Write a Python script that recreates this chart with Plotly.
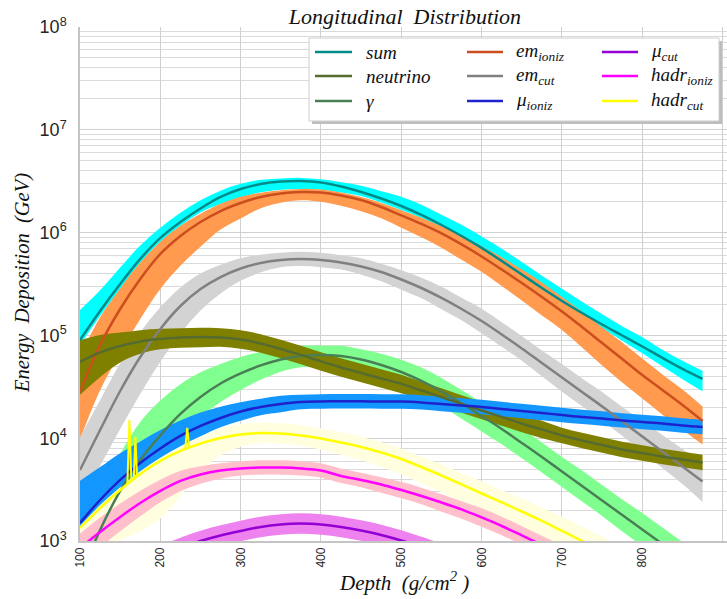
import plotly.graph_objects as go

# ---------------- data ----------------
# depth in g/cm^2; energy deposition given as log10(E / GeV) of the mean curve,
# with the upper / lower extent of each spread band in decades.
depth = list(range(100, 876, 25))                 # 100 ... 875
depth_gamma = list(range(100, 851, 25))           # 100 ... 850
depth_mu_cut = list(range(200, 551, 25))          # 200 ... 550
depth_hadr_ioniz = list(range(100, 701, 25))      # 100 ... 700
depth_hadr_cut = list(range(100, 776, 25))        # 100 ... 775

sum_log = [4.956, 5.238, 5.500, 5.744, 5.948, 6.103, 6.235, 6.347, 6.424, 6.473, 6.497, 6.502, 6.488, 6.449,
           6.395, 6.332, 6.259, 6.172, 6.074, 5.967, 5.851, 5.724, 5.593, 5.461, 5.335, 5.218, 5.106, 4.999,
           4.892, 4.781, 4.674, 4.576]
sum_up = [0.29, 0.20, 0.16, 0.13, 0.10, 0.09, 0.08, 0.06, 0.05, 0.04, 0.03, 0.03, 0.03, 0.04, 0.06, 0.07,
          0.09, 0.10, 0.10, 0.11, 0.11, 0.12, 0.12, 0.12, 0.12, 0.11, 0.10, 0.09, 0.09, 0.08, 0.08, 0.08]
sum_dn = [0.05, 0.05, 0.05, 0.04, 0.04, 0.04, 0.04, 0.07, 0.08, 0.08, 0.08, 0.08, 0.07, 0.06, 0.04, 0.04,
          0.04, 0.03, 0.03, 0.03, 0.03, 0.03, 0.03, 0.03, 0.03, 0.035, 0.04, 0.05, 0.065, 0.08, 0.10, 0.12]

neutrino_log = [4.742, 4.834, 4.897, 4.941, 4.965, 4.980, 4.985, 4.980, 4.960, 4.922, 4.868, 4.810, 4.747,
                4.688, 4.635, 4.581, 4.528, 4.464, 4.401, 4.333, 4.270, 4.207, 4.143, 4.085, 4.027, 3.978,
                3.934, 3.890, 3.856, 3.822, 3.793, 3.764]
neutrino_up = [0.21, 0.17, 0.13, 0.11, 0.10] + [0.09] * 12 + [0.085] * 7 + [0.075] * 8
neutrino_dn = [0.32, 0.24, 0.16, 0.12, 0.10, 0.10, 0.10] + [0.09] * 10 + [0.085] * 7 + [0.075] * 8

gamma_log = [2.640, 3.107, 3.487, 3.788, 4.027, 4.236, 4.401, 4.532, 4.630, 4.708, 4.766, 4.800, 4.810, 4.800,
             4.766, 4.712, 4.644, 4.557, 4.455, 4.338, 4.216, 4.090, 3.954, 3.817, 3.676, 3.535, 3.394, 3.253,
             3.112, 2.971, 2.830]
gamma_up = [0.29, 0.33, 0.36, 0.37, 0.34, 0.29, 0.24, 0.19, 0.16, 0.13, 0.11, 0.10, 0.09, 0.10, 0.10, 0.11,
            0.12, 0.13, 0.13, 0.13, 0.13, 0.14, 0.14, 0.14, 0.14, 0.15, 0.15, 0.15, 0.16, 0.16, 0.16]
gamma_dn = [0.29, 0.29, 0.28, 0.26, 0.24, 0.21, 0.19, 0.18, 0.16, 0.14, 0.12, 0.11, 0.11, 0.11, 0.12, 0.13,
            0.13, 0.14, 0.14, 0.15, 0.15, 0.15, 0.15, 0.15, 0.15, 0.15, 0.15, 0.16, 0.16, 0.16, 0.16]

em_ioniz_log = [4.450, 4.907, 5.257, 5.549, 5.792, 5.967, 6.103, 6.210, 6.288, 6.347, 6.381, 6.395, 6.390,
                6.361, 6.317, 6.249, 6.167, 6.084, 5.992, 5.885, 5.768, 5.641, 5.510, 5.374, 5.233, 5.082,
                4.926, 4.771, 4.615, 4.469, 4.323, 4.168]
em_ioniz_up = [0.35, 0.27, 0.20, 0.16, 0.12, 0.10, 0.08, 0.07, 0.06, 0.04, 0.03, 0.03, 0.03, 0.03, 0.03, 0.04,
               0.05, 0.06, 0.07, 0.09, 0.10, 0.12, 0.13, 0.14, 0.14, 0.15, 0.15, 0.16, 0.16, 0.15, 0.15, 0.14]
em_ioniz_dn = [0.46, 0.44, 0.43, 0.39, 0.34, 0.29, 0.24, 0.18, 0.15, 0.11, 0.09, 0.08, 0.09, 0.10, 0.11, 0.11,
               0.12, 0.13, 0.14, 0.15, 0.15, 0.16, 0.17, 0.18, 0.18, 0.20, 0.22, 0.23, 0.23, 0.24, 0.24, 0.23]

em_cut_log = [3.691, 4.080, 4.459, 4.790, 5.063, 5.286, 5.452, 5.568, 5.651, 5.705, 5.734, 5.744, 5.734, 5.710,
              5.671, 5.617, 5.544, 5.461, 5.364, 5.257, 5.140, 5.009, 4.873, 4.732, 4.591, 4.450, 4.309, 4.163,
              4.017, 3.871, 3.725, 3.579]
em_cut_up = [0.32, 0.29, 0.27, 0.24, 0.21, 0.18, 0.15, 0.12, 0.10, 0.08, 0.07, 0.07, 0.07, 0.07, 0.08, 0.08,
             0.09, 0.10, 0.11, 0.11, 0.12, 0.12, 0.12, 0.12, 0.13, 0.13, 0.14, 0.14, 0.15, 0.16, 0.17, 0.18]
em_cut_dn = [0.31, 0.35, 0.37, 0.36, 0.32, 0.27, 0.21, 0.16, 0.12, 0.09, 0.07, 0.07, 0.07, 0.07, 0.08, 0.09,
             0.10, 0.10, 0.11, 0.11, 0.12, 0.12, 0.12, 0.13, 0.14, 0.14, 0.14, 0.14, 0.15, 0.16, 0.17, 0.20]

mu_ioniz_log = [3.175, 3.399, 3.594, 3.759, 3.900, 4.022, 4.119, 4.197, 4.260, 4.304, 4.333, 4.352, 4.357,
                4.359, 4.359, 4.357, 4.357, 4.348, 4.333, 4.318, 4.304, 4.284, 4.265, 4.245, 4.226, 4.207,
                4.192, 4.173, 4.158, 4.143, 4.124, 4.109]
mu_ioniz_up = [0.41, 0.32, 0.26, 0.21, 0.18, 0.15, 0.13, 0.11, 0.09, 0.08, 0.08, 0.07, 0.07] + [0.07] * 19
mu_ioniz_dn = [0.03, 0.05, 0.07, 0.08, 0.09, 0.10, 0.10, 0.09, 0.09, 0.08, 0.08, 0.07, 0.07] + [0.07] * 19

mu_cut_log = [2.854, 2.932, 3.000, 3.054, 3.098, 3.137, 3.161, 3.171, 3.161, 3.137, 3.102, 3.059, 3.005, 2.942,
              2.874]
mu_cut_up = [0.10] * 15
mu_cut_dn = [0.10] * 15

hadr_ioniz_log = [2.932, 3.088, 3.234, 3.370, 3.487, 3.584, 3.647, 3.686, 3.706, 3.715, 3.715, 3.706, 3.686,
                  3.633, 3.594, 3.550, 3.496, 3.438, 3.375, 3.307, 3.229, 3.146, 3.054, 2.961, 2.864]
hadr_ioniz_up = [0.14, 0.14, 0.13, 0.12, 0.11, 0.10, 0.08, 0.07, 0.07, 0.07, 0.07, 0.07, 0.07, 0.07, 0.07,
                 0.07, 0.08, 0.08, 0.08, 0.08, 0.09, 0.09, 0.09, 0.09, 0.09]
hadr_ioniz_dn = [0.16, 0.15, 0.14, 0.13, 0.11, 0.10, 0.09, 0.08, 0.07, 0.07, 0.07, 0.07, 0.07, 0.07, 0.07,
                 0.08, 0.08, 0.08, 0.09, 0.09, 0.09, 0.09, 0.09, 0.09, 0.09]

hadr_cut_log = [3.127, 3.321, 3.496, 3.652, 3.779, 3.876, 3.949, 4.002, 4.036, 4.051, 4.046, 4.027, 3.997,
                3.958, 3.915, 3.861, 3.798, 3.720, 3.637, 3.550, 3.462, 3.375, 3.287, 3.195, 3.098, 3.000,
                2.903, 2.806]
hadr_cut_up = [0.27, 0.23, 0.19, 0.15, 0.12, 0.11] + [0.10] * 12 + [0.11, 0.11, 0.12, 0.12, 0.13, 0.13,
                                                                   0.14, 0.14, 0.14, 0.14]
hadr_cut_dn = [0.31, 0.44, 0.49, 0.56, 0.56, 0.44, 0.27, 0.17, 0.12, 0.10, 0.10, 0.10, 0.11, 0.12, 0.13, 0.14,
               0.15, 0.16, 0.16] + [0.17] * 9

# isolated upward fluctuations of the hadronic-cut deposit (depth, GeV)
hadr_cut_spike_depth = [159, 161.5, 164, None, 167, 169, 171, None, 231, 233.5, 236]
hadr_cut_spike_value = [3.6e3, 1.5e4, 3.8e3, None, 4.1e3, 1.03e4, 4.3e3, None, 7.9e3, 1.26e4, 8.1e3]

# ---------------- styling ----------------
SERIF = "Liberation Serif, DejaVu Serif, serif"
SANS = "Liberation Sans, Arial, sans-serif"


def curves(x, lg, up, dn):
    mid = [10 ** v for v in lg]
    hi = [10 ** (v + u) for v, u in zip(lg, up)]
    lo = [10 ** (v - d) for v, d in zip(lg, dn)]
    return dict(x=x, mid=mid, hi=hi, lo=lo)


series = {
    "sum": dict(**curves(depth, sum_log, sum_up, sum_dn), line="#008B8B", band="#00FFFF", label="sum"),
    "neutrino": dict(**curves(depth, neutrino_log, neutrino_up, neutrino_dn), line="#556B2F", band="#808000", label="neutrino"),
    "gamma": dict(**curves(depth_gamma, gamma_log, gamma_up, gamma_dn), line="#4A7F55", band="#80FF90", label="γ"),
    "em_ioniz": dict(**curves(depth, em_ioniz_log, em_ioniz_up, em_ioniz_dn), line="#CC4E1E", band="#FF9A4F", label="em<sub>ioniz</sub>"),
    "em_cut": dict(**curves(depth, em_cut_log, em_cut_up, em_cut_dn), line="#808080", band="#D3D3D3", label="em<sub>cut</sub>"),
    "mu_ioniz": dict(**curves(depth, mu_ioniz_log, mu_ioniz_up, mu_ioniz_dn), line="#1E22CC", band="#1496FF", label="μ<sub>ioniz</sub>"),
    "mu_cut": dict(**curves(depth_mu_cut, mu_cut_log, mu_cut_up, mu_cut_dn), line="#9400D3", band="#EE82EE", label="μ<sub>cut</sub>"),
    "hadr_ioniz": dict(**curves(depth_hadr_ioniz, hadr_ioniz_log, hadr_ioniz_up, hadr_ioniz_dn), line="#FF00FF", band="#FFC0CB", label="hadr<sub>ioniz</sub>"),
    "hadr_cut": dict(**curves(depth_hadr_cut, hadr_cut_log, hadr_cut_up, hadr_cut_dn), line="#FFFF00", band="#FFFFE0", label="hadr<sub>cut</sub>"),
}

band_order = ["sum", "em_ioniz", "em_cut", "gamma", "hadr_cut", "hadr_ioniz", "mu_cut", "neutrino", "mu_ioniz"]
line_order = ["sum", "em_ioniz", "em_cut", "gamma", "neutrino", "mu_ioniz", "mu_cut", "hadr_ioniz", "hadr_cut"]

fig = go.Figure()

for key in band_order:
    s = series[key]
    fig.add_trace(go.Scatter(x=s["x"], y=s["lo"], mode="lines",
                             line=dict(width=0, shape="spline", smoothing=1.0),
                             hoverinfo="skip", showlegend=False))
    fig.add_trace(go.Scatter(x=s["x"], y=s["hi"], mode="lines",
                             line=dict(width=0, shape="spline", smoothing=1.0),
                             fill="tonexty", fillcolor=s["band"],
                             hoverinfo="skip", showlegend=False))

for key in line_order:
    s = series[key]
    fig.add_trace(go.Scatter(x=s["x"], y=s["mid"], mode="lines", name=key,
                             line=dict(color=s["line"], width=2.5, shape="spline", smoothing=1.0),
                             showlegend=False))

fig.add_trace(go.Scatter(x=hadr_cut_spike_depth, y=hadr_cut_spike_value, mode="lines", name="hadr_cut",
                         line=dict(color=series["hadr_cut"]["line"], width=2), connectgaps=False,
                         hoverinfo="skip", showlegend=False))

# ---------------- geometry helpers (pixels -> paper) ----------------
L, R, T, B = 80, 0, 27, 58
W, H = 727, 599
PW, PH = W - L - R, H - T - B


def px(x):
    return (x - L) / PW


def py(y):
    return (H - B - y) / PH


shapes = []
annotations = []

# legend frame with drop shadow
shapes.append(dict(type="rect", xref="paper", yref="paper", x0=px(312), x1=px(722), y0=py(124), y1=py(41),
                   fillcolor="#BDBDBD", line=dict(width=0), layer="above"))
shapes.append(dict(type="rect", xref="paper", yref="paper", x0=px(309), x1=px(719), y0=py(121), y1=py(38),
                   fillcolor="white", line=dict(color="#CFCFCF", width=1), layer="above"))

legend_columns = [["sum", "neutrino", "gamma"], ["em_ioniz", "em_cut", "mu_ioniz"], ["mu_cut", "hadr_ioniz", "hadr_cut"]]
col_line_x = [(315, 352), (467, 503), (602, 638)]
col_text_x = [364, 514, 649]
row_y = [52, 76, 101]

for ci, col in enumerate(legend_columns):
    for ri, key in enumerate(col):
        s = series[key]
        shapes.append(dict(type="line", xref="paper", yref="paper",
                           x0=px(col_line_x[ci][0]), x1=px(col_line_x[ci][1]), y0=py(row_y[ri]), y1=py(row_y[ri]),
                           line=dict(color=s["line"], width=2.5), layer="above"))
        annotations.append(dict(xref="paper", yref="paper", x=px(col_text_x[ci]), y=py(row_y[ri]),
                                text="<i>" + s["label"] + "</i>", showarrow=False, xanchor="left", yanchor="middle",
                                font=dict(family=SERIF, size=19, color="#111111")))

# axis titles
annotations.append(dict(xref="paper", yref="paper", x=px(404), y=py(581),
                        text="<i>Depth\u00a0\u00a0(g/cm<sup>2</sup>\u00a0)</i>", showarrow=False,
                        xanchor="center", yanchor="middle", font=dict(family=SERIF, size=21, color="#111111")))
annotations.append(dict(xref="paper", yref="paper", x=px(22), y=py(283),
                        text="<i>Energy\u00a0\u00a0Deposition\u00a0\u00a0(GeV)</i>", showarrow=False, textangle=-90,
                        xanchor="center", yanchor="middle", font=dict(family=SERIF, size=20.5, color="#111111")))

minor_vals = [m * 10 ** k for k in range(3, 8) for m in range(2, 10)]
decades = [3, 4, 5, 6, 7, 8]

fig.update_layout(
    width=W, height=H,
    margin=dict(l=L, r=R, t=T, b=B, pad=0),
    paper_bgcolor="white", plot_bgcolor="white",
    showlegend=False,
    title=dict(text="<i>Longitudinal\u00a0\u00a0Distribution</i>", x=px(405), xref="paper",
               y=1 - 16 / H, yref="container", xanchor="center", yanchor="middle",
               font=dict(family=SERIF, size=22, color="#111111")),
    shapes=shapes,
    annotations=annotations,
)

fig.update_xaxes(
    range=[100, 100 + PW / 0.8033], automargin=False,
    tickmode="array", tickvals=[100, 200, 300, 400, 500, 600, 700, 800, 900],
    tickangle=-90, ticks="", tickfont=dict(family=SANS, size=12, color="#262626"),
    showgrid=True, gridcolor="#D0D0D0", gridwidth=1.2,
    showline=True, linecolor="#C4C4C4", linewidth=1.5,
    zeroline=False,
)

fig.update_yaxes(
    type="log", range=[3, 8], automargin=False,
    tickmode="array", tickvals=[10 ** k for k in decades],
    ticktext=["10<sup>%d</sup>" % k for k in decades],
    ticks="", ticklabelstandoff=8, tickfont=dict(family=SANS, size=18, color="#262626"),
    showgrid=True, gridcolor="#D0D0D0", gridwidth=1.2,
    minor=dict(tickmode="array", tickvals=minor_vals, showgrid=True, gridcolor="#DADADA", gridwidth=1, ticks=""),
    showline=True, linecolor="#C4C4C4", linewidth=1.5,
    zeroline=False,
)

fig.write_html("out.html")
